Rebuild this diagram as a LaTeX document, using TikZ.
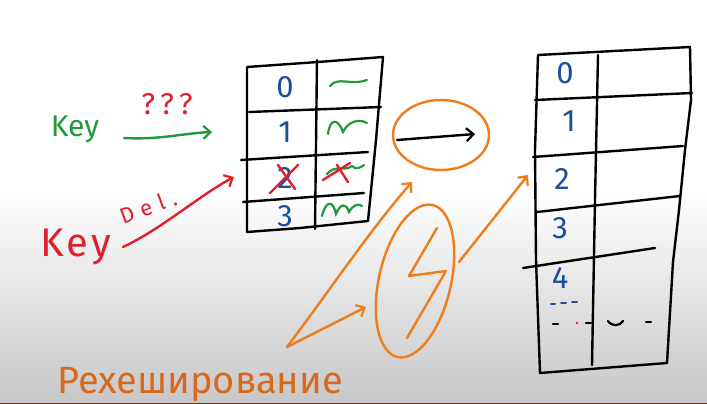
\documentclass[tikz,border=0pt]{standalone}
\usepackage{fontspec}
\setmainfont{Fira Sans}
\newfontfamily\spfont[LetterSpace=32]{Fira Sans}
\usetikzlibrary{shapes.geometric,arrows.meta}
\definecolor{kgreen}{HTML}{1E9A3C}
\definecolor{kred}{HTML}{E0202A}
\definecolor{kblue}{HTML}{1A4F9C}
\definecolor{korange}{HTML}{F07D1A}
\definecolor{ktext}{HTML}{D8691C}
\tikzset{
  ink/.style={line width=2.4pt,line cap=round,line join=round},
  tbl/.style={ink,black},
  dig/.style={text=kblue,font=\fontsize{31}{31}\selectfont,inner sep=0pt},
  sq/.style={line width=2.2pt,line cap=round,kgreen},
  barb/.style={-{Straight Barb[length=7pt,width=13pt,line width=2.2pt]}},
  oline/.style={ink,korange},
}
\begin{document}
\begin{tikzpicture}[x=1pt,y=-1pt]
\useasboundingbox (0,0) rectangle (707,404);
\fill[white] (0,0) rectangle (707,190);
\shade[top color=white,bottom color=black!22] (0,190) rectangle (707,404);
\fill[red!85!black] (0,402.6) rectangle (707,404);

% ---------- left texts ----------
\node[text=kgreen,font=\fontsize{30}{30}\selectfont,inner sep=0pt] (gkey) at (75,129) {Key};
\coordinate (gs) at (124,138);
\coordinate (gt) at (212,132);
\draw[ink,kgreen,barb] (gs) .. controls (160,140) and (185,133) .. (gt);
\node[text=kred,font={\fontspec[LetterSpace=20]{Fira Sans}\fontsize{30}{30}\selectfont},inner sep=0pt] (qq) at (167,104) {???};

\node[text=kred,font={\fontspec[LetterSpace=8]{Fira Sans}\fontsize{40}{40}\selectfont},inner sep=0pt] (rkey) at (76,247) {Key};
\node[text=kred,font={\spfont\fontsize{22}{22}\selectfont},inner sep=0pt,rotate=20] (del) at (148,207) {Del.};
\coordinate (rs) at (123,247);
\coordinate (rt) at (234,177);
\draw[ink,kred,barb] (rs) .. controls (160,230) and (200,195) .. (rt);

% ---------- left table ----------
\draw[tbl] (247,67) -- (318,62) -- (383,57) -- (376,140) -- (368,221) -- (300,228) -- (247,232) -- cycle;
\draw[tbl] (317,60) -- (315,229);
\draw[tbl] (249,112) -- (381,107);
\draw[tbl] (241,160) -- (368,152);
\draw[tbl] (243,202) -- (364,193);
\node[dig] (l0) at (285,87) {0};
\node[dig] (l1) at (285,132) {1};
\node[dig] (l2) at (285,178) {2};
\node[dig] (l3) at (285,216) {3};
\draw[sq] (330,86) .. controls (338,76) and (350,86) .. (367,80);
\draw[sq] (328,134) .. controls (330,118) and (338,118) .. (343,132) .. controls (348,122) and (358,118) .. (367,123);
\draw[sq] (327,174) .. controls (335,164) and (345,172) .. (352,166) .. controls (356,170) and (360,168) .. (364,165);
\draw[sq] (322,216) .. controls (326,200) and (333,200) .. (336,214) .. controls (340,204) and (346,202) .. (349,212) .. controls (353,205) and (358,203) .. (362,206);
% red crosses
\draw[ink,kred] (270,193) -- (298,165);
\draw[ink,kred] (278,165) -- (295,189);
\draw[ink,kred] (323,180) -- (350,163);
\draw[ink,kred] (337,165) -- (348,182);

% ---------- orange ellipses ----------
\node[ellipse,draw=korange,line width=2.4pt,minimum width=96pt,minimum height=70pt] (hash) at (441,135) {};
\coordinate (as) at (397,140);
\coordinate (at) at (475,134);
\draw[ink,black,barb] (as) -- (at);

\node[ellipse,draw=korange,line width=2.4pt,minimum width=72pt,minimum height=156pt,rotate=-13] (rh) at (415,281) {};
\draw[oline] (437,228) -- (409,276) -- (446,271) -- (407,338);

\coordinate (src) at (287,347);
\coordinate (t1) at (412,182);
\coordinate (t2) at (366,307);
\coordinate (t3) at (528,175);
\coordinate (rs2) at (459,262);
\draw[oline,barb] (src) .. controls (330,290) and (370,230) .. (t1);
\draw[oline,barb] (src) -- (t2);
\draw[oline,barb] (rs2) -- (t3);

% ---------- right table ----------
\draw[tbl] (538,55) -- (690,47) -- (691,100) -- (685,150) -- (679,210) -- (673,262) -- (667,363) -- (540,373) -- (536,260) -- (535,150) -- cycle;
\draw[tbl] (598,55) -- (595,200) -- (592,365);
\draw[tbl] (535,100) -- (692,93);
\draw[tbl] (533,157) -- (683,146);
\draw[tbl] (537,212) -- (680,196);
\draw[tbl] (523,268) -- (655,248);
\node[dig] (r0) at (565,73) {0};
\node[dig] (r1) at (569,121) {1};
\node[dig] (r2) at (562,179) {2};
\node[dig] (r3) at (560,228) {3};
\node[dig] (r4) at (560,278) {4};
\draw[line width=2pt,kblue,line cap=round] (551,304) -- (555,304) (561,303) -- (566,303) (572,302) -- (577,302);
\draw[line width=2.2pt,black,line cap=round] (553,324) -- (558,324) (586,323) -- (591,323) (646,322) -- (651,322);
\fill[kred] (577,323) circle (1.3pt);
\draw[line width=2.2pt,black,line cap=round] (608,321) .. controls (612,327) and (620,326) .. (623,321);

% ---------- bottom text ----------
\node[text=ktext,font=\fontsize{38}{38}\selectfont,inner sep=0pt,anchor=base west] (rehash) at (57,393) {Рехеширование};
\end{tikzpicture}
\end{document}
